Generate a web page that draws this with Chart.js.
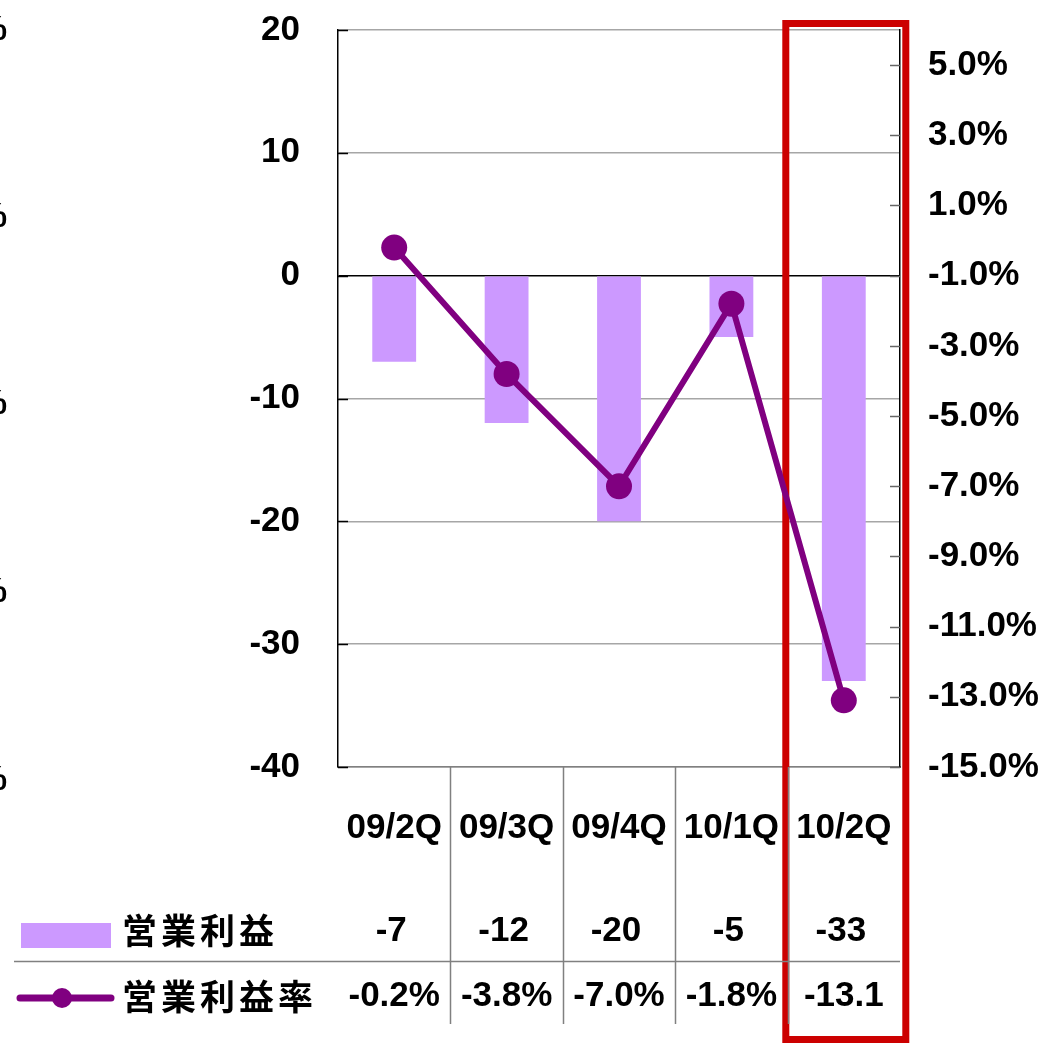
<!DOCTYPE html>
<html lang="ja">
<head>
  <meta charset="UTF-8" />
  <title>営業利益 / 営業利益率</title>
  <script src="https://cdn.jsdelivr.net/npm/chart.js"></script>
  <style>
    html, body { margin: 0; padding: 0; background: #fff; }
    #wrap { width: 1058px; height: 1046px; }
  </style>
</head>
<body>
  <div id="wrap"><canvas id="myChart" width="1058" height="1046"></canvas></div>

  <script>
    // data
    const quarters = ['09/2Q', '09/3Q', '09/4Q', '10/1Q', '10/2Q'];
    const profit = [-7, -12, -20, -5, -33];
    const margin = [-0.2, -3.8, -7.0, -1.8, -13.1];
    const profitLabels = ['-7', '-12', '-20', '-5', '-33'];
    const marginLabels = ['-0.2%', '-3.8%', '-7.0%', '-1.8%', '-13.1'];
    const rightTicks = [5, 3, 1, -1, -3, -5, -7, -9, -11, -13, -15];

    const BAR = '#cc99ff';
    const LINE = '#800080';
    const FONT = '"Liberation Sans", Arial, sans-serif';
    const CJK = '"Noto Sans CJK JP", sans-serif';
    const FS = 35;

    // red highlight box around the latest quarter, behind the line
    const highlight = {
      id: 'highlight',
      beforeDatasetsDraw(chart) {
        const ctx = chart.ctx;
        const x = chart.scales.x;
        const cx = x.getPixelForValue(quarters.length - 1);
        ctx.save();
        ctx.strokeStyle = '#cc0000';
        ctx.lineWidth = 7;
        ctx.strokeRect(cx - 58, 23.5, 120, 1016);
        ctx.restore();
      }
    };

    // data table under the chart + inner tick marks
    const table = {
      id: 'table',
      afterDraw(chart) {
        const ctx = chart.ctx;
        const x = chart.scales.x;
        const y = chart.scales.y;
        const y2 = chart.scales.y2;
        const area = chart.chartArea;
        const half = (x.getPixelForValue(1) - x.getPixelForValue(0)) / 2;

        ctx.save();
        // tick marks pointing into the plot
        ctx.lineWidth = 1.5;
        ctx.strokeStyle = '#000';
        y.ticks.forEach(t => {
          const py = Math.round(y.getPixelForValue(t.value)) + 0.5;
          ctx.beginPath(); ctx.moveTo(area.left, py); ctx.lineTo(area.left + 10, py); ctx.stroke();
        });
        ctx.strokeStyle = '#666';
        rightTicks.forEach(v => {
          const py = Math.round(y2.getPixelForValue(v)) + 0.5;
          ctx.beginPath(); ctx.moveTo(area.right - 10, py); ctx.lineTo(area.right, py); ctx.stroke();
        });

        // table grid
        ctx.strokeStyle = '#808080';
        ctx.lineWidth = 1.5;
        for (let i = 0; i < quarters.length - 1; i++) {
          const px = Math.round(x.getPixelForValue(i) + half) + 0.5;
          ctx.beginPath(); ctx.moveTo(px, area.bottom); ctx.lineTo(px, 1024); ctx.stroke();
        }
        ctx.beginPath(); ctx.moveTo(14, 961.5); ctx.lineTo(area.right, 961.5); ctx.stroke();

        // values
        ctx.fillStyle = '#000';
        ctx.font = 'bold ' + FS + 'px ' + FONT;
        ctx.textAlign = 'center';
        ctx.textBaseline = 'middle';
        quarters.forEach((q, i) => {
          const px = x.getPixelForValue(i);
          ctx.fillText(profitLabels[i], px - 3, 931);
          ctx.fillText(marginLabels[i], px, 996);
        });

        // legend keys
        ctx.fillStyle = BAR;
        ctx.fillRect(21, 923, 90, 25);
        ctx.strokeStyle = LINE;
        ctx.lineWidth = 7;
        ctx.lineCap = 'round';
        ctx.beginPath(); ctx.moveTo(20, 998); ctx.lineTo(111, 998); ctx.stroke();
        ctx.fillStyle = LINE;
        ctx.beginPath(); ctx.arc(62, 998, 10, 0, Math.PI * 2); ctx.fill();

        ctx.fillStyle = '#000';
        ctx.font = 'bold 35px ' + CJK;
        ctx.textAlign = 'left';
        const drawSpaced = (txt, sx, sy) => {
          let cx = sx;
          for (const ch of txt) { ctx.fillText(ch, cx, sy); cx += 39; }
        };
        drawSpaced('営業利益', 122, 931);
        drawSpaced('営業利益率', 122, 997);

        // clipped labels of the neighbouring chart at the left edge
        ctx.font = 'bold ' + FS + 'px ' + FONT;
        ctx.textAlign = 'right';
        [30, 217, 404, 592, 780].forEach(py => ctx.fillText('%', 7, py));
        ctx.restore();
      }
    };

    const ctx = document.getElementById('myChart').getContext('2d');
    new Chart(ctx, {
      type: 'bar',
      data: {
        labels: quarters,
        datasets: [
          {
            type: 'line',
            label: '営業利益率',
            data: margin,
            yAxisID: 'y2',
            borderColor: LINE,
            backgroundColor: LINE,
            borderWidth: 6,
            pointRadius: 13,
            pointHoverRadius: 13,
            pointBorderWidth: 0,
            tension: 0,
            order: 0
          },
          {
            label: '営業利益',
            data: profit,
            yAxisID: 'y',
            backgroundColor: BAR,
            categoryPercentage: 1,
            barPercentage: 0.39,
            order: 1
          }
        ]
      },
      options: {
        responsive: false,
        animation: false,
        layout: { padding: { top: 30, left: 0, right: 0, bottom: 0 } },
        plugins: {
          legend: { display: false },
          tooltip: { enabled: false },
          title: { display: false }
        },
        scales: {
          x: {
            grid: { display: false, drawTicks: false },
            border: { color: '#808080', width: 1.5 },
            ticks: {
              color: '#000',
              padding: 40,
              maxRotation: 0,
              font: { family: FONT, size: FS, weight: 'bold' }
            },
            afterFit(scale) {
              scale.height = 279;
              scale.paddingLeft = 0;
              scale.paddingRight = 0;
            }
          },
          y: {
            position: 'left',
            min: -40,
            max: 20,
            ticks: {
              stepSize: 10,
              color: '#000',
              padding: 38,
              font: { family: FONT, size: FS, weight: 'bold' }
            },
            grid: {
              drawTicks: false,
              lineWidth: 1.5,
              color: c => (c.tick && c.tick.value === 0 ? '#000' : '#a6a6a6')
            },
            border: { color: '#000', width: 1.5 },
            afterFit(scale) {
              scale.width = 338;
              scale.paddingTop = 0;
              scale.paddingBottom = 0;
            }
          },
          y2: {
            position: 'right',
            min: -15,
            max: 6,
            afterBuildTicks(scale) {
              scale.ticks = rightTicks.map(v => ({ value: v }));
            },
            ticks: {
              color: '#000',
              padding: 28,
              font: { family: FONT, size: FS, weight: 'bold' },
              callback: v => v.toFixed(1) + '%'
            },
            grid: { display: false, drawTicks: false },
            border: { color: '#000', width: 1.5 },
            afterFit(scale) {
              scale.width = 158;
              scale.paddingTop = 0;
              scale.paddingBottom = 0;
            }
          }
        }
      },
      plugins: [highlight, table]
    });
  </script>
</body>
</html>
